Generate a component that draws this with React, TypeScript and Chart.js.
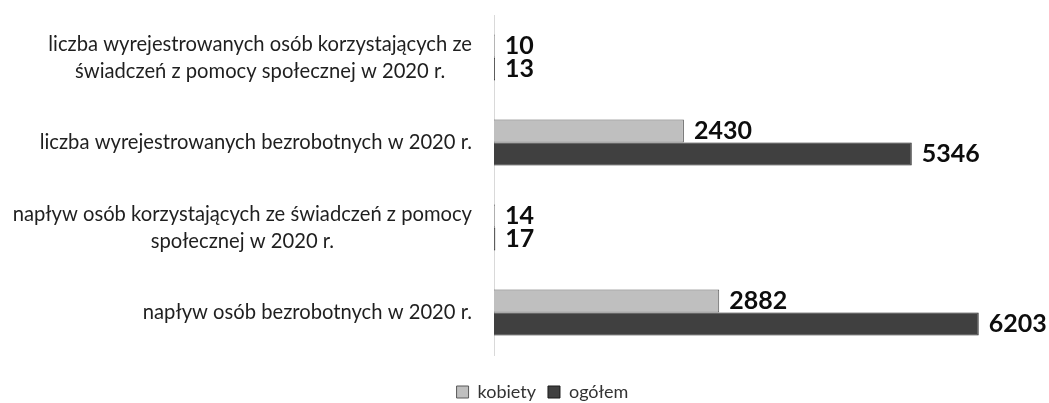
import React, { useEffect, useRef } from "react";
import { Chart, registerables } from "chart.js";

Chart.register(...registerables);

const categories: string[][] = [
  ["liczba wyrejestrowanych osób korzystających ze", "świadczeń z pomocy społecznej w 2020 r."],
  ["liczba wyrejestrowanych bezrobotnych w 2020 r."],
  ["napływ osób korzystających ze świadczeń z pomocy", "społecznej w 2020 r."],
  ["napływ osób bezrobotnych w 2020 r."],
];
const kobiety: number[] = [10, 2430, 14, 2882];
const ogolem: number[] = [13, 5346, 17, 6203];
const seriesNames: string[] = ["kobiety", "ogółem"];

const LABEL_FONT = "Lato, 'Open Sans', sans-serif";

const categoryLabelPlugin = {
  id: "categoryLabels",
  afterDraw(chart: any) {
    const { ctx, chartArea } = chart;
    const yScale = chart.scales.y;
    ctx.save();
    ctx.font = `20.2px ${LABEL_FONT}`;
    ctx.fillStyle = "#1f1f1f";
    ctx.textAlign = "center";
    ctx.textBaseline = "middle";
    const right = chartArea.left - 22;
    const lineH = 27;
    categories.forEach((lines, i) => {
      const y = yScale.getPixelForTick(i);
      const widest = Math.max(...lines.map((l) => ctx.measureText(l).width));
      const cx = right - widest / 2;
      const y0 = y - ((lines.length - 1) * lineH) / 2;
      lines.forEach((l, j) => ctx.fillText(l, cx, y0 + j * lineH));
    });
    ctx.restore();
  },
};

const valueLabelPlugin = {
  id: "valueLabels",
  afterDatasetsDraw(chart: any) {
    const { ctx } = chart;
    ctx.save();
    ctx.font = `bold 25px ${LABEL_FONT}`;
    ctx.fillStyle = "#0d0d0d";
    ctx.textAlign = "left";
    ctx.textBaseline = "middle";
    chart.data.datasets.forEach((ds: any, di: number) => {
      const meta = chart.getDatasetMeta(di);
      meta.data.forEach((bar: any, i: number) => {
        ctx.fillText(String(ds.data[i]), bar.x + 10, bar.y);
      });
    });
    ctx.restore();
  },
};

export default function App() {
  const ref = useRef<HTMLCanvasElement>(null);
  useEffect(() => {
    if (!ref.current) return;
    const chart = new Chart(ref.current, {
      type: "bar",
      data: {
        labels: categories.map((c) => c.join(" ")),
        datasets: [
          {
            label: seriesNames[0],
            data: kobiety,
            backgroundColor: "#bfbfbf",
            borderColor: "#595959",
            borderWidth: 1,
            categoryPercentage: 0.54,
            barPercentage: 1,
          },
          {
            label: seriesNames[1],
            data: ogolem,
            backgroundColor: "#404040",
            borderColor: "#1a1a1a",
            borderWidth: 1,
            categoryPercentage: 0.54,
            barPercentage: 1,
          },
        ],
      },
      options: {
        indexAxis: "y",
        animation: false,
        responsive: true,
        maintainAspectRatio: false,
        layout: { padding: { left: 44, right: 8, top: 15, bottom: -8 } },
        scales: {
          x: {
            min: 0,
            max: 7000,
            display: true,
            ticks: { display: false },
            grid: { display: false },
            border: { display: false },
            afterFit: (scale: any) => {
              scale.height = 16;
            },
          },
          y: {
            ticks: { display: false },
            grid: { display: false },
            border: { display: true, color: "#d9d9d9", width: 1 },
            afterFit: (scale: any) => {
              scale.width = 450;
            },
          },
        },
        plugins: {
          legend: {
            position: "bottom",
            labels: {
              font: { family: LABEL_FONT, size: 18 },
              color: "#333333",
              boxWidth: 12,
              boxHeight: 12,
              padding: 12,
            },
          },
          tooltip: { enabled: false },
        },
      },
      plugins: [categoryLabelPlugin, valueLabelPlugin],
    });
    return () => chart.destroy();
  }, []);
  return (
    <div style={{ position: "fixed", left: 0, top: 0, width: 1049, height: 403, background: "#fff" }}>
      <canvas ref={ref} />
    </div>
  );
}
